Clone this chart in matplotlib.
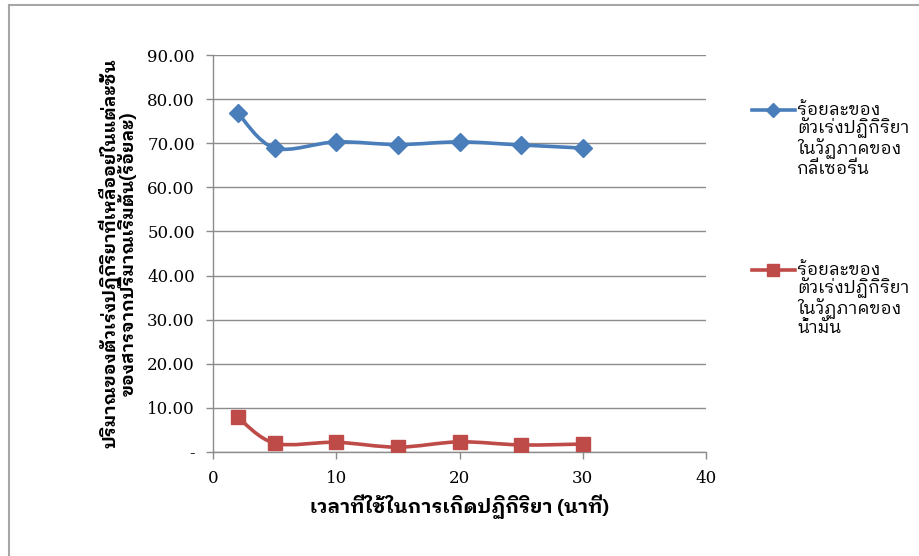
import matplotlib
matplotlib.use("Agg")
import matplotlib.pyplot as plt
from matplotlib.path import Path
from matplotlib.patches import PathPatch
from matplotlib.lines import Line2D

# data
minutes = [2, 5, 10, 15, 20, 25, 30]
glycerin = [76.9, 68.9, 70.3, 69.7, 70.3, 69.6, 68.9]
oil = [7.9, 2.0, 2.2, 1.1, 2.3, 1.6, 1.8]
series_names = ["ร้อยละของ\nตัวเร่งปฏิกิริยา\nในวัฏภาคของ\nกลีเซอรีน",
                "ร้อยละของ\nตัวเร่งปฏิกิริยา\nในวัฏภาคของ\nน้ำมัน"]
y_ticks = [0, 10, 20, 30, 40, 50, 60, 70, 80, 90]
y_tick_labels = ["-", "10.00", "20.00", "30.00", "40.00", "50.00", "60.00", "70.00", "80.00", "90.00"]
x_ticks = [0, 10, 20, 30, 40]
x_title = "เวลาที่ใช้ในการเกิดปฏิกิริยา (นาที)"
y_title = "ปริมาณของตัวเร่งปฏิกิริยาที่เหลืออยู่ในแต่ละชั้น\nของสารจากปริมาณเริ่มต้น(ร้อยละ)"

thai = ["IBM Plex Sans Thai Looped", "DejaVu Sans"]
blue = "#4a7ebb"
red = "#be4b48"
grid_col = "#8c8c8c"


def smooth_path(xs, ys):
    # excel-like smoothed line: catmull-rom segments as cubic beziers
    pts = list(zip(xs, ys))
    verts = [pts[0]]
    codes = [Path.MOVETO]
    n = len(pts)
    for i in range(n - 1):
        p0 = pts[max(i - 1, 0)]
        p1 = pts[i]
        p2 = pts[i + 1]
        p3 = pts[min(i + 2, n - 1)]
        c1 = (p1[0] + (p2[0] - p0[0]) / 6, p1[1] + (p2[1] - p0[1]) / 6)
        c2 = (p2[0] - (p3[0] - p1[0]) / 6, p2[1] - (p3[1] - p1[1]) / 6)
        verts += [c1, c2, p2]
        codes += [Path.CURVE4] * 3
    return Path(verts, codes)


fig = plt.figure(figsize=(9.19, 5.56), dpi=100)
ax = fig.add_axes([213 / 919, 1 - 452 / 556, 493 / 919, 397 / 556])

styles = [(glycerin, blue, "D", 9), (oil, red, "s", 10)]
for vals, col, mk, ms in styles:
    ax.add_patch(PathPatch(smooth_path(minutes, vals), fill=False, edgecolor=col,
                           lw=2.6, capstyle="round", joinstyle="round", zorder=3))
    ax.plot(minutes, vals, ls="none", marker=mk, ms=ms, color=col, zorder=4)

ax.set_xlim(0, 40)
ax.set_ylim(0, 90)
ax.set_yticks(y_ticks)
ax.set_yticklabels(y_tick_labels)
ax.set_xticks(x_ticks)
ax.yaxis.grid(True, color=grid_col, lw=1)
ax.set_axisbelow(True)
for s in ["top", "right"]:
    ax.spines[s].set_visible(False)
for s in ["left", "bottom"]:
    ax.spines[s].set_color(grid_col)
    ax.spines[s].set_linewidth(1)
ax.tick_params(axis="both", colors=grid_col, length=5, width=1, labelcolor="black",
               labelsize=12, pad=8)
for lab in ax.get_xticklabels() + ax.get_yticklabels():
    lab.set_family("DejaVu Serif")

ax.set_xlabel(x_title, family=thai, fontsize=14, fontweight="bold", labelpad=5)
ax.set_ylabel(y_title, family=thai, fontsize=13, fontweight="bold", labelpad=7,
              linespacing=0.72)

# legend drawn on the right, key at the first line of each label
legend_y = [110, 270]
for (vals, col, mk, ms), name, ly in zip(styles, series_names, legend_y):
    fy = 1 - ly / 556
    fig.add_artist(Line2D([752 / 919, 795 / 919], [fy, fy], color=col, lw=2.6))
    fig.add_artist(Line2D([773 / 919], [fy], ls="none", marker=mk, ms=ms - 2, color=col))
    fig.text(797 / 919, fy + 8 / 556, name, family=thai, fontsize=12.5, va="top",
             ha="left", linespacing=1.0)

# outer chart border (top and left visible)
fig.add_artist(Line2D([9 / 919, 1], [1 - 5 / 556, 1 - 5 / 556], color="#a6a6a6", lw=1.5))
fig.add_artist(Line2D([9 / 919, 9 / 919], [0, 1 - 5 / 556], color="#a6a6a6", lw=1.5))

fig.savefig("out.png", dpi=100)
